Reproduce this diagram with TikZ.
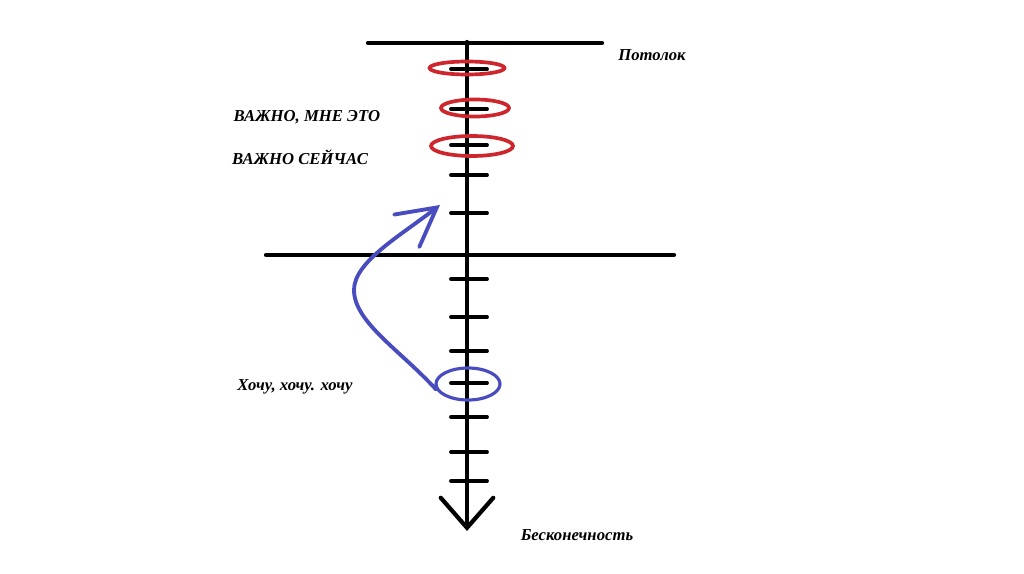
\documentclass[tikz,border=0pt]{standalone}
\usepackage{fontspec}
\setmainfont{Liberation Serif}
\usepackage{tikz}
\usetikzlibrary{arrows.meta,calc,positioning,shapes.geometric}
\definecolor{cred}{RGB}{205,38,45}
\definecolor{cblue}{RGB}{72,76,190}
\tikzset{
  axisline/.style={line width=2.4pt,line cap=round},
  tickline/.style={line width=2.2pt,line cap=round},
  % marked values: red for now, blue for wishes
  mark red/.style={ellipse,draw=cred,line width=2.1pt,inner sep=0pt},
  mark blue/.style={ellipse,draw=cblue,line width=1.8pt,inner sep=0pt},
  lab/.style={font=\fontsize{9.5}{11}\selectfont\bfseries\itshape,inner sep=0pt}
}

\begin{document}
\begin{tikzpicture}[x=0.02cm,y=0.02cm]
\useasboundingbox (0,0) rectangle (1024,-574);
% ---------------- scale ----------------
\coordinate (top) at (467,-42);
\coordinate (bottom) at (467,-531);
\draw[axisline] (368,-43) -- (602,-43);
\draw[axisline] (266,-255) -- (674,-255);
\draw[axisline,-{Straight Barb[length=0.6cm,width=1.05cm,line cap=round]}] (top) -- (bottom);
\foreach \ty in {69,109,145,175,213,279,317,351,383,417,452,481}
  \draw[tickline] (451,-\ty) -- (487,-\ty);
% ---------------- marks ----------------
\node[mark red,minimum width=1.5cm,minimum height=0.26cm] (now1) at (467,-68) {};
\node[mark red,minimum width=1.36cm,minimum height=0.34cm] (now2) at (475,-108) {};
\node[mark red,minimum width=1.64cm,minimum height=0.4cm] (now3) at (472,-146) {};
\node[mark blue,minimum width=1.28cm,minimum height=0.64cm] (want) at (468,-384) {};
\coordinate (bend) at (354,-290);
\coordinate (goal) at (440,-205);
\draw[cblue,line width=2.2pt,line cap=round,
  -{Straight Barb[length=0.76cm,width=0.82cm,line cap=round]}]
  (want.190) .. controls (400,-350) and (354,-322) .. (bend)
  .. controls (354,-262) and (400,-236) .. (goal);
% ---------------- labels ----------------
\node[lab] (ceil) at (652,-55) {Потолок};
\node[lab] (imp1) at (307,-117) {ВАЖНО, МНЕ ЭТО};
\node[lab] (imp2) at (300,-157) {ВАЖНО СЕЙЧАС};
\node[lab] (wish) at (295,-387) {Хочу, хочу. хочу};
\node[lab] (inf) at (577,-535) {Бесконечность};
\end{tikzpicture}
\end{document}
